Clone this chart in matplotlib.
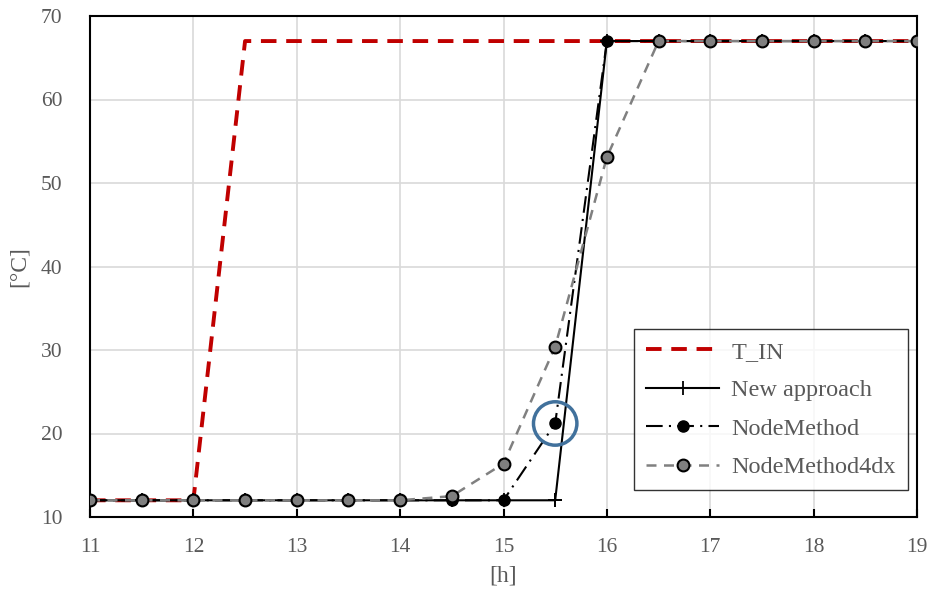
import matplotlib.pyplot as plt
from matplotlib.patches import Ellipse

hours = [11, 11.5, 12, 12.5, 13, 13.5, 14, 14.5, 15, 15.5, 16, 16.5, 17, 17.5, 18, 18.5, 19]
t_in = [12, 12, 12, 67, 67, 67, 67, 67, 67, 67, 67, 67, 67, 67, 67, 67, 67]
new_hours = [11, 11.5, 12, 12.5, 13, 13.5, 14, 14.5, 15, 15.5, 15.5, 16, 16.5, 17, 17.5, 18, 18.5, 19]
new_approach = [12, 12, 12, 12, 12, 12, 12, 12, 12, 12, 12, 67, 67, 67, 67, 67, 67, 67]
node_method = [12, 12, 12, 12, 12, 12, 12, 12, 12, 21.2, 67, 67, 67, 67, 67, 67, 67]
node_method_4dx = [12, 12, 12, 12, 12, 12, 12, 12.5, 16.4, 30.4, 53.1, 67, 67, 67, 67, 67, 67]

plt.rcParams['font.family'] = ['Liberation Serif', 'DejaVu Serif']
grey_txt = '#595959'

fig = plt.figure(figsize=(9.3, 5.98), dpi=100)
ax = fig.add_axes([90 / 930, 1 - 517 / 598, 827 / 930, 501 / 598])

ax.plot(hours, t_in, color='#c00000', lw=2.8, ls=(0, (4, 2.5)), label='T_IN', zorder=3)
ax.plot(new_hours, new_approach, color='black', lw=1.5, marker='+', ms=10, mew=1.3,
        label='New approach', zorder=4)
ax.plot(hours, node_method, color='black', lw=1.5, ls=(0, (8, 3, 1, 3)), marker='o', ms=8,
        mfc='black', mec='black', label='NodeMethod', zorder=5)
ax.plot(hours, node_method_4dx, color='#808080', lw=1.8, ls=(0, (4, 3)), marker='o', ms=8.5,
        mfc='#7f7f7f', mec='black', mew=1.5, label='NodeMethod4dx', zorder=6)

# highlight circle
ax.add_patch(Ellipse((15.5, 21.2), 0.42, 5.2, fill=False, ec='#41719c', lw=2.5, zorder=7))

ax.set_xlim(11, 19)
ax.set_ylim(10, 70)
ax.set_xticks(range(11, 20))
ax.set_yticks(range(10, 71, 10))
ax.grid(True, color='#d9d9d9', lw=1.2)
ax.set_axisbelow(True)
for s in ax.spines.values():
    s.set_color('black')
    s.set_linewidth(1.5)
ax.tick_params(axis='x', direction='in', length=6, width=1.5, colors='black',
               labelcolor=grey_txt, labelsize=15.5, pad=15)
ax.tick_params(axis='y', length=0, labelcolor=grey_txt, labelsize=15.5, pad=20)

ax.set_xlabel('[h]', fontsize=17, color=grey_txt, labelpad=6)
ax.set_ylabel('[°C]', fontsize=17, color=grey_txt, labelpad=8)

leg = ax.legend(loc='lower right', bbox_to_anchor=(0.989, 0.053), fontsize=17.5,
                frameon=True, fancybox=False, edgecolor='black', handlelength=3.0,
                labelspacing=0.68, borderpad=0.5, handletextpad=0.5, borderaxespad=0)
leg.get_frame().set_linewidth(1.0)
for t in leg.get_texts():
    t.set_color(grey_txt)

plt.savefig('out.png', dpi=100)
